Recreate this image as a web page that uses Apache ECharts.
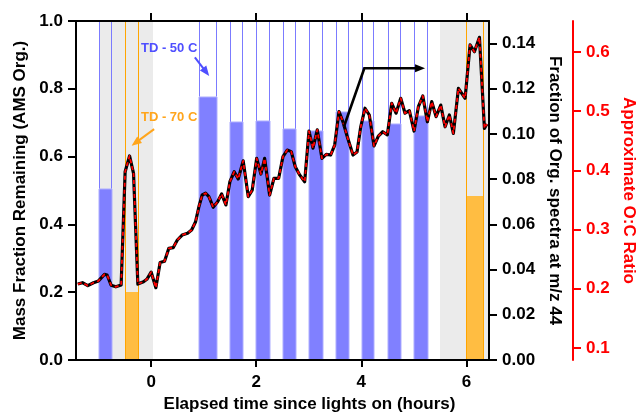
<!DOCTYPE html>
<html>
<head>
<meta charset="utf-8">
<script src="https://cdn.jsdelivr.net/npm/echarts@6/dist/echarts.min.js"></script>
<style>
  html, body { margin: 0; padding: 0; background: #fff; }
  #chart { width: 638px; height: 414px; }
</style>
</head>
<body>
<div id="chart"></div>
<script>
// Fraction of organic signal at m/z 44: [hours since lights on, f44]
const f44Series = [
  [-1.396, 0.0336], [-1.307, 0.0342], [-1.206, 0.0329], [-1.097, 0.0342], [-1.002, 0.0350],
  [-0.888, 0.0379], [-0.838, 0.0376], [-0.762, 0.0331], [-0.672, 0.0324], [-0.571, 0.0332],
  [-0.495, 0.0833], [-0.411, 0.0903], [-0.335, 0.0826], [-0.253, 0.0336], [-0.145, 0.0346],
  [-0.082, 0.0357], [0.000, 0.0389], [0.090, 0.0320], [0.171, 0.0431], [0.255, 0.0437],
  [0.337, 0.0494], [0.419, 0.0497], [0.499, 0.0531], [0.590, 0.0553], [0.693, 0.0561],
  [0.770, 0.0575], [0.846, 0.0612], [0.909, 0.0678], [0.971, 0.0730], [1.036, 0.0738],
  [1.099, 0.0723], [1.181, 0.0676], [1.265, 0.0700], [1.341, 0.0735], [1.423, 0.0686],
  [1.499, 0.0789], [1.581, 0.0833], [1.657, 0.0801], [1.752, 0.0881], [1.848, 0.0723],
  [1.924, 0.0752], [2.008, 0.0892], [2.090, 0.0823], [2.160, 0.0892], [2.255, 0.0730],
  [2.337, 0.0804], [2.427, 0.0804], [2.509, 0.0900], [2.590, 0.0929], [2.667, 0.0922],
  [2.743, 0.0855], [2.827, 0.0819], [2.922, 0.0789], [3.004, 0.1013], [3.080, 0.0937],
  [3.162, 0.1018], [3.251, 0.0892], [3.333, 0.0910], [3.417, 0.0907], [3.493, 0.0951],
  [3.575, 0.1099], [3.651, 0.1054], [3.733, 0.0988], [3.842, 0.0907], [3.918, 0.0920],
  [3.989, 0.1032], [4.070, 0.1114], [4.152, 0.1084], [4.242, 0.0947], [4.324, 0.0991],
  [4.408, 0.1010], [4.495, 0.0996], [4.579, 0.1136], [4.661, 0.1092], [4.750, 0.1158],
  [4.832, 0.1092], [4.914, 0.1103], [5.004, 0.1013], [5.086, 0.1121], [5.170, 0.1168],
  [5.257, 0.1054], [5.341, 0.1143], [5.423, 0.1077], [5.512, 0.1128], [5.594, 0.1032],
  [5.676, 0.1084], [5.752, 0.1003], [5.848, 0.1202], [5.975, 0.1158], [6.070, 0.1394],
  [6.152, 0.1364], [6.248, 0.1428], [6.343, 0.1025], [6.389, 0.1044]
];

// Thermodenuder windows: [start h, end h, mass fraction remaining]
const td50 = [
  [-1.00, -0.74, 0.505], [0.92, 1.26, 0.777], [1.50, 1.75, 0.701], [2.00, 2.26, 0.705],
  [2.50, 2.76, 0.681], [3.01, 3.27, 0.675], [3.51, 3.76, 0.733], [4.01, 4.25, 0.704],
  [4.50, 4.76, 0.696], [5.00, 5.26, 0.721]
];
const td70 = [
  [-0.50, -0.24, 0.200], [6.00, 6.34, 0.485]
];

// Shaded periods: [start h, end h]
const shaded = [[-1.00, 0.03], [5.50, 6.43]];

// Tick positions
const timeTicks = [0, 2, 4, 6];
const mfrTicks = [0, 0.2, 0.4, 0.6, 0.8, 1.0];
const f44Ticks = [0, 0.02, 0.04, 0.06, 0.08, 0.10, 0.12, 0.14];
const ocTicks = [0.1, 0.2, 0.3, 0.4, 0.5, 0.6];

// Annotations in data coordinates (hours, mass fraction remaining)
const BLUE = '#4f4fff';
const ORANGE = '#ffa51c';
const noteTexts = [
  { text: 'TD - 50 C', t: 0.343, v: 0.918, color: BLUE },
  { text: 'TD - 70 C', t: 0.343, v: 0.715, color: ORANGE }
];
const noteArrows = [
  { pts: [[0.832, 0.893], [1.105, 0.838]], color: BLUE, width: 2 },
  { pts: [[0.057, 0.681], [-0.373, 0.632]], color: ORANGE, width: 2 },
  { pts: [[3.669, 0.688], [4.057, 0.8605], [5.213, 0.8605]], color: '#000', width: 2.6 }
];

const FONT = '"Liberation Sans", Arial, Helvetica, sans-serif';
const X_MIN = -1.43, X_MAX = 6.43;
const OC_MIN = 0.0794, OC_MAX = 0.6524;

// Each sampling window: open box outline up to 1.0 plus a filled column up to the value
function tdRender(fill, edge, rim, edgesOnTop) {
  return function (params, api) {
    const base = api.coord([api.value(0), 0]);
    const tip = api.coord([api.value(1), api.value(2)]);
    const top = api.coord([api.value(0), 1])[1];
    const xl = Math.round(base[0]) + 0.5;
    const xr = Math.round(tip[0]) - 0.5;
    const body = {
      type: 'rect',
      shape: { x: xl - 0.5, y: Math.round(tip[1]), width: xr - xl + 1, height: Math.round(base[1]) - Math.round(tip[1]) },
      style: rim ? { fill: fill, stroke: rim, lineWidth: 1 } : { fill: fill, stroke: 'rgba(0,0,0,0)', lineWidth: 0 }
    };
    const yEnd = edgesOnTop ? base[1] : tip[1];
    const left = { type: 'line', shape: { x1: xl, y1: top, x2: xl, y2: yEnd }, style: { stroke: edge, lineWidth: 1, fill: null } };
    const right = { type: 'line', shape: { x1: xr, y1: top, x2: xr, y2: yEnd }, style: { stroke: edge, lineWidth: 1, fill: null } };
    return { type: 'group', children: edgesOnTop ? [body, left, right] : [left, right, body] };
  };
}

function shadeRender(params, api) {
  const a = api.coord([api.value(0), 1]);
  const b = api.coord([api.value(1), 0]);
  const x0 = Math.round(a[0]), x1 = Math.round(b[0]);
  return {
    type: 'rect',
    shape: { x: x0, y: Math.round(a[1]), width: x1 - x0, height: Math.round(b[1]) - Math.round(a[1]) },
    style: { fill: '#ebebeb', stroke: 'rgba(0,0,0,0)', lineWidth: 0 }
  };
}

function arrowRender(params, api) {
  const a = noteArrows[params.dataIndex];
  const p = a.pts.map(q => api.coord(q));
  const n = p.length;
  const tipPt = p[n - 1], prev = p[n - 2];
  const dx = tipPt[0] - prev[0], dy = tipPt[1] - prev[1];
  const len = Math.sqrt(dx * dx + dy * dy);
  const ux = dx / len, uy = dy / len;
  const headLen = 10, headHalf = 4;
  const bx = tipPt[0] - ux * headLen, by = tipPt[1] - uy * headLen;
  const shaft = p.slice(0, n - 1).concat([[bx + ux * 1, by + uy * 1]]);
  return {
    type: 'group',
    children: [
      { type: 'polyline', shape: { points: shaft }, style: { stroke: a.color, lineWidth: a.width, fill: null, lineJoin: 'miter' } },
      { type: 'polygon', shape: { points: [tipPt, [bx - uy * headHalf, by + ux * headHalf], [bx + uy * headHalf, by - ux * headHalf]] }, style: { fill: a.color, stroke: 'rgba(0,0,0,0)', lineWidth: 0 } }
    ]
  };
}

function textRender(params, api) {
  const n = noteTexts[params.dataIndex];
  const p = api.coord([n.t, n.v]);
  return {
    type: 'text', x: p[0], y: p[1],
    style: { text: n.text, fill: n.color, fontSize: 13, fontWeight: 'bold', fontFamily: FONT, align: 'center', verticalAlign: 'middle' }
  };
}

const labelStyle = { color: '#000', fontSize: 17, fontWeight: 'bold', fontFamily: FONT };
const nameStyle = { color: '#000', fontSize: 17, fontWeight: 'bold', fontFamily: FONT };
const noBorder = { borderWidth: 0, borderColor: 'rgba(0,0,0,0)' };

const chart = echarts.init(document.getElementById('chart'), null, { renderer: 'canvas' });
chart.setOption({
  animation: false,
  backgroundColor: '#fff',
  grid: { left: 76, right: 149, top: 21, bottom: 54, containLabel: false, outerBoundsMode: 'none' },
  xAxis: [
    {
      type: 'value', position: 'bottom', min: X_MIN, max: X_MAX, z: 10,
      axisLine: { onZero: false, lineStyle: { color: '#000', width: 2 } },
      axisTick: { length: 7, lineStyle: { width: 2, color: '#000' }, customValues: timeTicks },
      axisLabel: Object.assign({ margin: 14, customValues: timeTicks }, labelStyle),
      splitLine: { show: false },
      name: 'Elapsed time since lights on (hours)', nameLocation: 'middle', nameGap: 34,
      nameTextStyle: Object.assign({ padding: [0, 0, 0, 54] }, nameStyle)
    },
    {
      type: 'value', position: 'top', min: X_MIN, max: X_MAX, z: 10,
      axisLine: { onZero: false, lineStyle: { color: '#000', width: 2 } },
      axisTick: { length: 8, lineStyle: { width: 2, color: '#000' }, customValues: timeTicks },
      axisLabel: { show: false },
      splitLine: { show: false }
    }
  ],
  yAxis: [
    {
      type: 'value', position: 'left', min: 0, max: 1, z: 10,
      axisLine: { show: true, onZero: false, lineStyle: { color: '#000', width: 2 } },
      axisTick: { show: true, length: 8, lineStyle: { width: 2, color: '#000' }, customValues: mfrTicks },
      axisLabel: Object.assign({ margin: 13, customValues: mfrTicks, formatter: v => v.toFixed(1) }, labelStyle),
      splitLine: { show: false },
      name: 'Mass Fraction Remaining (AMS Org.)', nameLocation: 'middle', nameGap: 47, nameRotate: 90,
      nameTextStyle: nameStyle
    },
    {
      type: 'value', position: 'right', offset: 0, min: 0, max: 0.15, z: 10,
      axisLine: { show: true, onZero: false, lineStyle: { color: '#000', width: 2 } },
      axisTick: { show: true, length: 8, lineStyle: { width: 2, color: '#000' }, customValues: f44Ticks },
      axisLabel: Object.assign({ margin: 13, customValues: f44Ticks, formatter: v => v.toFixed(2) }, labelStyle),
      splitLine: { show: false },
      name: 'Fraction of Org. spectra at m/z 44', nameLocation: 'middle', nameGap: 55, nameRotate: -90,
      nameTextStyle: nameStyle
    },
    {
      type: 'value', position: 'right', offset: 84, min: OC_MIN, max: OC_MAX, z: 10,
      axisLine: { show: true, onZero: false, lineStyle: { color: '#ff0000', width: 2 } },
      axisTick: { show: true, length: 8, lineStyle: { width: 2, color: '#ff0000' }, customValues: ocTicks },
      axisLabel: Object.assign({}, labelStyle, { color: '#ff0000', margin: 13, customValues: ocTicks, formatter: v => v.toFixed(1) }),
      splitLine: { show: false },
      name: 'Approximate O:C Ratio', nameLocation: 'middle', nameGap: 47, nameRotate: -90,
      nameTextStyle: Object.assign({}, nameStyle, { color: '#ff0000' })
    }
  ],
  series: [
    { type: 'custom', name: 'shade', xAxisIndex: 0, yAxisIndex: 0, z: 1, itemStyle: noBorder, renderItem: shadeRender, data: shaded, silent: true },
    { type: 'custom', name: 'TD 50 C', xAxisIndex: 0, yAxisIndex: 0, z: 2, itemStyle: noBorder, renderItem: tdRender('#8080ff', '#7b7bff', '#adadff', false), data: td50 },
    { type: 'custom', name: 'TD 70 C', xAxisIndex: 0, yAxisIndex: 0, z: 2, itemStyle: noBorder, renderItem: tdRender('#ffbd42', '#ffa500', null, true), data: td70 },
    {
      type: 'line', name: 'f44', xAxisIndex: 0, yAxisIndex: 1, z: 3, data: f44Series,
      symbol: 'none', lineStyle: { color: '#000', width: 3.2, join: 'round' }
    },
    {
      type: 'line', name: 'O:C', xAxisIndex: 0, yAxisIndex: 1, z: 4, data: f44Series,
      symbol: 'none', lineStyle: { color: '#ff0000', width: 1.8, type: [4, 3], join: 'round' }
    },
    { type: 'custom', name: 'arrows', xAxisIndex: 0, yAxisIndex: 0, z: 5, itemStyle: noBorder, renderItem: arrowRender, data: noteArrows.map(a => a.pts[0]), clip: false, silent: true },
    { type: 'custom', name: 'notes', xAxisIndex: 0, yAxisIndex: 0, z: 5, renderItem: textRender, data: noteTexts.map(n => [n.t, n.v]), clip: false, silent: true }
  ]
});
</script>
</body>
</html>
